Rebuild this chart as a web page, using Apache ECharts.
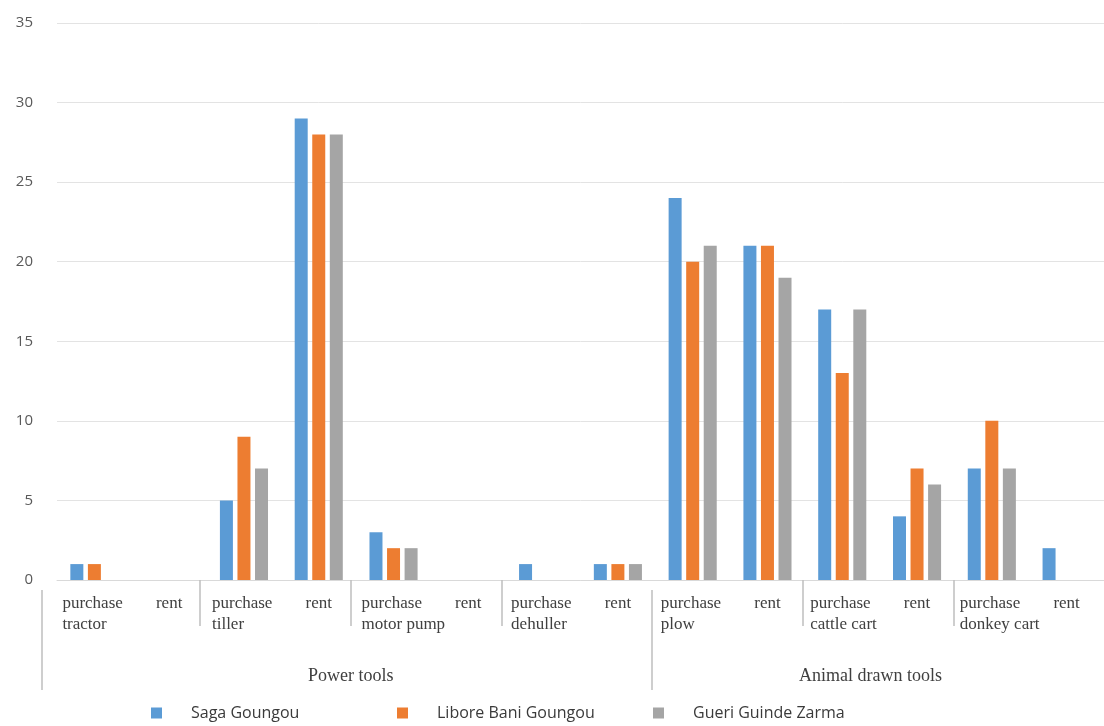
<!DOCTYPE html>
<html><head><meta charset="utf-8">
<script src="https://cdn.jsdelivr.net/npm/echarts@6/dist/echarts.min.js"></script>
<style>html,body{margin:0;padding:0;background:#fff}#c{width:1104px;height:726px}</style>
</head><body><div id="c"></div>
<script>
const tools = ['tractor', 'tiller', 'motor pump', 'dehuller', 'plow', 'cattle cart', 'donkey cart'];
const modes = ['purchase', 'rent'];
const toolGroups = ['Power tools', 'Animal drawn tools'];
const seriesNames = ['Saga Goungou', 'Libore Bani Goungou', 'Gueri Guinde Zarma'];
const sagaGoungou       = [1, 0, 5, 29, 3, 0, 1, 1, 24, 21, 17, 4, 7, 2];
const liboreBaniGoungou = [1, 0, 9, 28, 2, 0, 0, 1, 20, 21, 13, 7, 10, 0];
const gueriGuindeZarma  = [0, 0, 7, 28, 2, 0, 0, 1, 21, 19, 17, 6, 7, 0];
const colors = ['#5B9BD5', '#ED7D31', '#A5A5A5'];

const categories = [];
tools.forEach(t => modes.forEach(m => categories.push(m + '|' + t)));
// positions on the separator axis (in category units)
const toolSeparators = [2, 4, 6, 10, 12];
const groupSeparators = [-0.1, 8];
const groupLabelPos = [4, 10.9];

const serif = '"Liberation Serif", "DejaVu Serif", serif';
const sans = '"Open Sans", "Noto Sans", sans-serif';
const legendLefts = [146, 392, 648];

const chart = echarts.init(document.getElementById('c'), null, {renderer: 'canvas'});
chart.setOption({
  animation: false,
  backgroundColor: '#ffffff',
  color: colors,
  grid: [
    {left: 57, top: 23, width: 1057, height: 557, containLabel: false},
    {left: 42, top: 23, width: 1065, height: 557, containLabel: false}
  ],
  legend: seriesNames.map((n, i) => ({
    bottom: 0, left: legendLefts[i],
    icon: 'rect', itemWidth: 11, itemHeight: 11,
    data: [n],
    textStyle: {fontFamily: sans, fontSize: 16, color: '#3a3a3a', padding: [0, 0, 0, 24]}
  })),
  xAxis: [
    {
      type: 'category', gridIndex: 0, data: categories,
      axisLine: {show: true, lineStyle: {color: '#d9d9d9', width: 1}},
      axisTick: {show: false},
      axisLabel: {
        interval: 0, margin: 13,
        formatter: v => {
          const [m, t] = v.split('|');
          return m === 'purchase' ? '{p|' + m + '}\n{p|' + t + '}' : '{r|' + m + '}';
        },
        rich: {
          p: {fontFamily: serif, fontSize: 17, color: '#404040', width: 64, align: 'left', lineHeight: 21},
          r: {fontFamily: serif, fontSize: 17, color: '#404040', lineHeight: 21}
        }
      }
    },
    {
      type: 'value', gridIndex: 1, min: -0.1, max: 14, position: 'bottom', offset: 10,
      axisLine: {show: false},
      axisTick: {show: true, customValues: toolSeparators, length: 46, lineStyle: {color: '#bfbfbf', width: 1.5}},
      axisLabel: {show: false},
      splitLine: {show: false}
    },
    {
      type: 'value', gridIndex: 1, min: -0.1, max: 14, position: 'bottom', offset: 10,
      axisLine: {show: false},
      axisTick: {show: true, customValues: groupSeparators, length: 100, lineStyle: {color: '#bfbfbf', width: 1.5}},
      axisLabel: {
        show: true, customValues: groupLabelPos, margin: 77,
        formatter: v => (v < 8 ? toolGroups[0] : toolGroups[1]),
        fontFamily: serif, fontSize: 18, color: '#404040'
      },
      splitLine: {show: false}
    }
  ],
  yAxis: [
    {
      type: 'value', gridIndex: 0, min: 0, max: 35, interval: 5,
      axisLine: {show: false}, axisTick: {show: false},
      axisLabel: {margin: 24, fontFamily: sans, fontSize: 15, color: '#595959'},
      splitLine: {lineStyle: {color: '#e3e3e3', width: 1}}
    },
    {type: 'value', gridIndex: 1, min: 0, max: 35, show: false}
  ],
  series: [
    {name: seriesNames[0], type: 'bar', xAxisIndex: 0, yAxisIndex: 0, data: sagaGoungou, barWidth: 13, barGap: '35%'},
    {name: seriesNames[1], type: 'bar', xAxisIndex: 0, yAxisIndex: 0, data: liboreBaniGoungou, barWidth: 13, barGap: '35%'},
    {name: seriesNames[2], type: 'bar', xAxisIndex: 0, yAxisIndex: 0, data: gueriGuindeZarma, barWidth: 13, barGap: '35%'}
  ]
});
</script>
</body></html>
